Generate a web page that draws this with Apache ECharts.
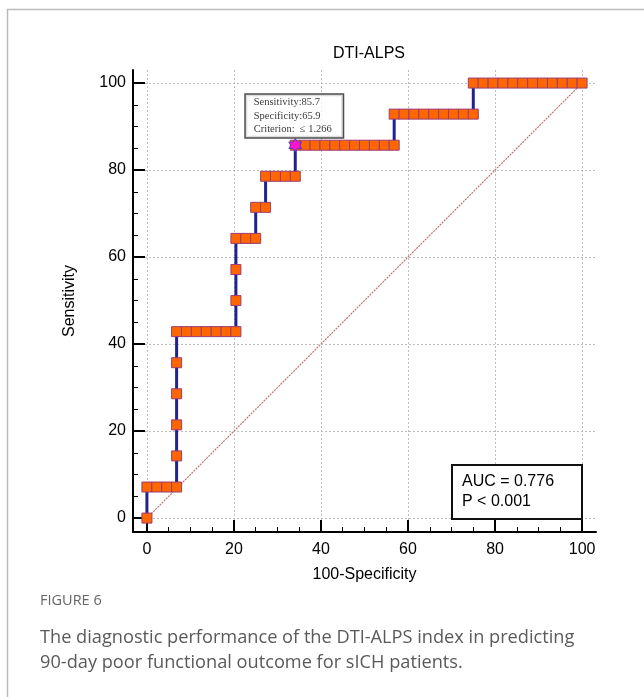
<!DOCTYPE html>
<html><head><meta charset="utf-8">
<script src="https://cdn.jsdelivr.net/npm/echarts@6/dist/echarts.min.js"></script>
<style>html,body{margin:0;padding:0;background:#fff}#c{width:644px;height:697px}</style>
</head><body><div id="c"></div>
<script>
// ROC curve points (100-Specificity, Sensitivity)
const fpr = [0,0,2.27,4.55,6.82,6.82,6.82,6.82,6.82,6.82,9.09,11.36,13.64,15.91,18.18,20.45,20.45,20.45,20.45,22.73,25,25,27.27,27.27,29.55,31.82,34.09,34.09,36.36,38.64,40.91,43.18,45.45,47.73,50,52.27,54.55,56.82,56.82,59.09,61.36,63.64,65.91,68.18,70.45,72.73,75,75,77.27,79.55,81.82,84.09,86.36,88.64,90.91,93.18,95.45,97.73,100];
const sens = [0,7.14,7.14,7.14,7.14,14.29,21.43,28.57,35.71,42.86,42.86,42.86,42.86,42.86,42.86,42.86,50,57.14,64.29,64.29,64.29,71.43,71.43,78.57,78.57,78.57,78.57,85.71,85.71,85.71,85.71,85.71,85.71,85.71,85.71,85.71,85.71,85.71,92.86,92.86,92.86,92.86,92.86,92.86,92.86,92.86,92.86,100,100,100,100,100,100,100,100,100,100,100,100];
const optimalPoint = [34.09, 85.71];
const refX = [0, 100];
const refY = [0, 100];
const majorTicks = [0, 20, 40, 60, 80, 100];
const minorTicks = [5, 10, 15, 25, 30, 35, 45, 50, 55, 65, 70, 75, 85, 90, 95];
const chartTitle = 'DTI-ALPS';
const xName = '100-Specificity';
const yName = 'Sensitivity';
const optimalText = ['Sensitivity:85.7', 'Specificity:65.9', 'Criterion:  \u2264 1.266'];
const aucText = ['AUC = 0.776', 'P < 0.001'];
const captionHead = 'FIGURE 6';
const captionLines = ['The diagnostic performance of the DTI-ALPS index in predicting', '90-day poor functional outcome for sICH patients.'];

const SANS = 'Liberation Sans, Arial, sans-serif';
const SERIF = 'Liberation Serif, Times New Roman, serif';
const CAP = 'Open Sans, Noto Sans, sans-serif';

const rocData = fpr.map((x, i) => [x, sens[i]]);
const refData = refX.map((x, i) => [x, refY[i]]);

const starPath = 'path://M100 0 L128.9 50 L186.6 50 L157.7 100 L186.6 150 L128.9 150 L100 200 L71.1 150 L13.4 150 L42.3 100 L13.4 50 L71.1 50 Z';

function mainAxis(isX) {
  return {
    type: 'value', min: -3.2, max: isX ? 103.2 : 103,
    position: isX ? 'bottom' : 'left',
    name: isX ? xName : yName, nameLocation: 'middle', nameGap: isX ? 35 : 55,
    nameTextStyle: { fontSize: 16, color: '#000', fontFamily: SANS },
    axisLine: { show: true, onZero: false, lineStyle: { color: '#000', width: 2 } },
    axisTick: { show: true, inside: true, length: 12, customValues: majorTicks, lineStyle: { color: '#000', width: 2 } },
    axisLabel: { customValues: majorTicks, fontSize: 16, color: '#000', fontFamily: SANS, margin: isX ? 10 : 7 },
    splitLine: { show: true, lineStyle: { color: '#bdbdbd', width: 1, type: [2, 2] } },
    minorTick: { show: false }
  };
}
function minorAxis(isX) {
  return {
    type: 'value', min: -3.2, max: isX ? 103.2 : 103,
    position: isX ? 'bottom' : 'left',
    axisLine: { show: false, onZero: false },
    axisTick: { show: true, inside: true, length: 5, customValues: minorTicks, lineStyle: { color: '#000', width: 1 } },
    axisLabel: { show: false },
    splitLine: { show: false }
  };
}

const chart = echarts.init(document.getElementById('c'), null, { renderer: 'canvas' });
chart.setOption({
  animation: false,
  backgroundColor: '#fff',
  title: { text: chartTitle, left: 364, top: 41, textAlign: 'center',
    textStyle: { fontSize: 16, fontWeight: 'normal', color: '#000', fontFamily: SANS } },
  grid: { left: 133, top: 70, right: 48, bottom: 165, containLabel: false },
  xAxis: [mainAxis(true), minorAxis(true)],
  yAxis: [mainAxis(false), minorAxis(false)],
  series: [
    { type: 'line', data: refData, xAxisIndex: 0, yAxisIndex: 0, symbol: 'none', silent: true, z: 1,
      lineStyle: { color: '#c07474', width: 1.2, type: [2, 1] } },
    { type: 'line', data: rocData, xAxisIndex: 0, yAxisIndex: 0, symbol: 'rect', symbolSize: 10, showAllSymbol: true, z: 3,
      silent: true,
      lineStyle: { color: '#22228f', width: 3 },
      itemStyle: { color: '#ff6600', borderColor: '#9b3d73', borderWidth: 1 } },
    { type: 'scatter', data: [optimalPoint], xAxisIndex: 0, yAxisIndex: 0, symbol: starPath, symbolSize: [13, 13], z: 5,
      silent: true,
      itemStyle: { color: '#ff00ff', borderColor: '#3a3acc', borderWidth: 1 },
      label: { show: true, position: 'top', distance: 1, align: 'left', verticalAlign: 'bottom', offset: [-49.5, 0],
        formatter: optimalText.join('\n'), fontFamily: SERIF, fontSize: 10.5, lineHeight: 13.5, color: '#000',
        backgroundColor: '#fff', borderColor: '#222', borderWidth: 1.5, padding: [1, 9, 1, 8], width: 80 } }
  ],
  graphic: [
    { type: 'rect', shape: { x: 7.5, y: 9.5, width: 720, height: 720 }, style: { fill: 'none', stroke: '#bcbcbc', lineWidth: 1.5 }, z: -1, silent: true },
    { type: 'rect', shape: { x: 452, y: 465, width: 130, height: 54 }, style: { fill: '#fff', stroke: '#111', lineWidth: 2 }, z: 10 },
    { type: 'text', x: 462, y: 472, z: 11, style: { text: aucText.join('\n'), font: '16px ' + SANS, fill: '#000', lineHeight: 20, textVerticalAlign: 'top' } },
    { type: 'text', x: 40, y: 601, z: 11, style: { text: captionHead, font: '14.5px ' + CAP, fill: '#666', textVerticalAlign: 'middle' } },
    { type: 'text', x: 40, y: 638, z: 11, style: { text: captionLines[0], font: '18.2px ' + CAP, fill: '#5a5a5a', textVerticalAlign: 'middle' } },
    { type: 'text', x: 40, y: 663, z: 11, style: { text: captionLines[1], font: '18.2px ' + CAP, fill: '#5a5a5a', textVerticalAlign: 'middle' } }
  ]
});
</script></body></html>
